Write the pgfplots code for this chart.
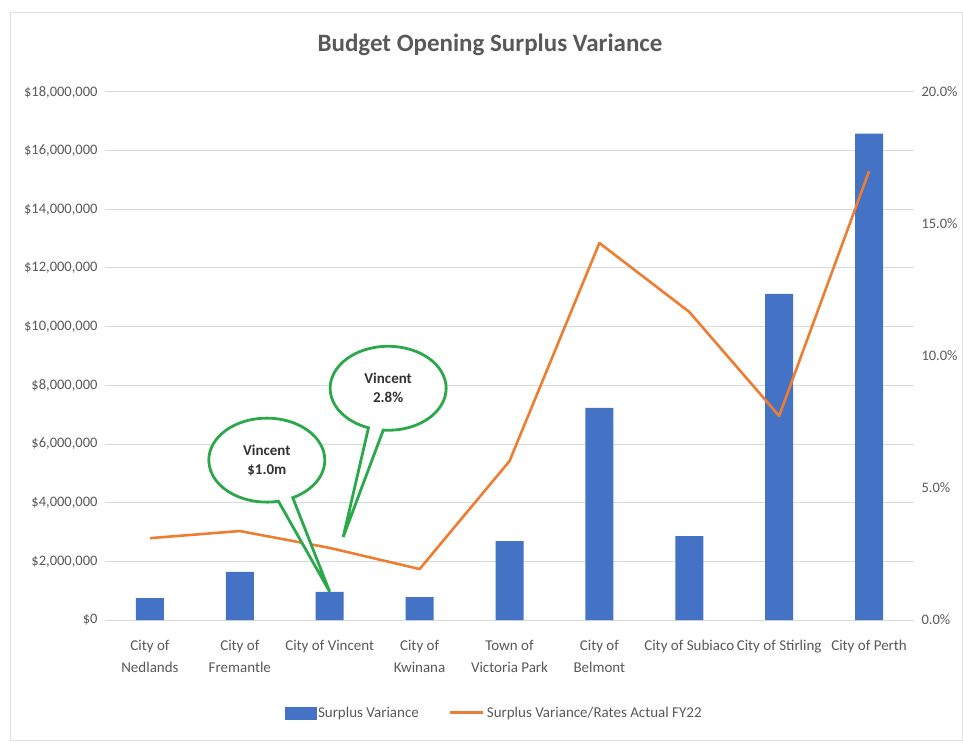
\documentclass[border=0pt]{standalone}
\usepackage{pgfplots}
\pgfplotsset{compat=1.18}
\usepackage{fontspec}
\setmainfont{Carlito}
\usetikzlibrary{shapes.callouts}
\definecolor{barblue}{HTML}{4472C4}
\definecolor{lineorange}{HTML}{ED7D31}
\definecolor{txtgray}{HTML}{595959}
\definecolor{gridgray}{HTML}{D9D9D9}
\definecolor{callgreen}{HTML}{2BA84A}
\begin{document}
\begin{tikzpicture}[x=1pt,y=1pt]
\pgfplotsset{common/.style={
  scale only axis, width=809pt, height=528pt, at={(105pt,122pt)}, anchor=south west,
  xmin=-0.5, xmax=8.5,
  axis line style={draw=none}, major tick length=0pt,
  tick label style={font=\fontsize{14.5}{16}\selectfont, text=txtgray},
  /pgf/number format/assume math mode=true,
}}
\begin{axis}[common,
  ymin=0, ymax=18000000, scaled y ticks=false,
  ytick={0,2000000,4000000,6000000,8000000,10000000,12000000,14000000,16000000,18000000},
  yticklabels={{\$0},{\$2,000,000},{\$4,000,000},{\$6,000,000},{\$8,000,000},{\$10,000,000},{\$12,000,000},{\$14,000,000},{\$16,000,000},{\$18,000,000}},
  ymajorgrids, grid style={gridgray, line width=1pt},
  xtick={0,...,8},
  xticklabels={{City of\\Nedlands},{City of\\Fremantle},{City of Vincent},{City of\\Kwinana},{Town of\\Victoria Park},{City of\\Belmont},{City of Subiaco},{City of Stirling},{City of Perth}},
  xticklabel style={align=center, font=\fontsize{15}{22}\selectfont, yshift=-17pt},
  yticklabel style={xshift=-4pt},
]
\addplot[ybar, bar width=28pt, fill=barblue, draw=none] coordinates {
(0,750000) (1,1640000) (2,960000) (3,780000) (4,2690000) (5,7230000) (6,2860000) (7,11120000) (8,16580000)};
\coordinate (c1) at (axis cs:1.30,5450000);
\coordinate (p1) at (axis cs:2.0,960000);
\coordinate (c2) at (axis cs:2.65,7900000);
\coordinate (p2) at (axis cs:2.15,2830000);
\end{axis}
\begin{axis}[common,
  ymin=0, ymax=0.20,
  axis y line*=right, axis x line=none,
  ytick={0,0.05,0.10,0.15,0.20},
  yticklabels={{0.0\%},{5.0\%},{10.0\%},{15.0\%},{20.0\%}},
  yticklabel style={xshift=4pt},
  legend columns=2,
  legend style={at={(0.481,-0.176)}, anchor=center, draw=none, fill=none,
    font=\fontsize{15}{17}\selectfont, text=txtgray,
    /tikz/every odd column/.append style={column sep=0pt},
    /tikz/every even column/.append style={column sep=28pt}},
]
\addlegendimage{legend image code/.code={\fill[barblue] (0pt,-6pt) rectangle (31pt,6pt);}}
\addlegendentry{Surplus Variance}
\addplot[lineorange, line width=2.6pt, line join=round, legend image code/.code={\draw[lineorange, line width=3pt] (0pt,0pt) -- (33pt,0pt);}] coordinates {
(0,0.031) (1,0.0337) (2,0.0273) (3,0.0193) (4,0.0602) (5,0.1428) (6,0.1167) (7,0.0773) (8,0.170)};
\addlegendentry{Surplus Variance/Rates Actual FY22}
\end{axis}
\node[ellipse callout, draw=callgreen, line width=2.8pt, fill=white, minimum width=116pt, minimum height=84pt, inner sep=0pt, align=center,
  callout absolute pointer={(p1)}, font=\bfseries\fontsize{15}{19}\selectfont, text=black!80] at (c1) {Vincent\\\$1.0m};
\node[ellipse callout, draw=callgreen, line width=2.8pt, fill=white, minimum width=116pt, minimum height=84pt, inner sep=0pt, align=center,
  callout absolute pointer={(p2)}, font=\bfseries\fontsize{15}{19}\selectfont, text=black!80] at (c2) {Vincent\\2.8\%};
\node[font=\bfseries\fontsize{25}{29}\selectfont, text=txtgray] at (490,697) {Budget Opening Surplus Variance};
\draw[gray!25, line width=1pt] (10,2) rectangle (962,729);
\pgfresetboundingbox
\path[use as bounding box] (0,0) rectangle (963,742);
\end{tikzpicture}
\end{document}
